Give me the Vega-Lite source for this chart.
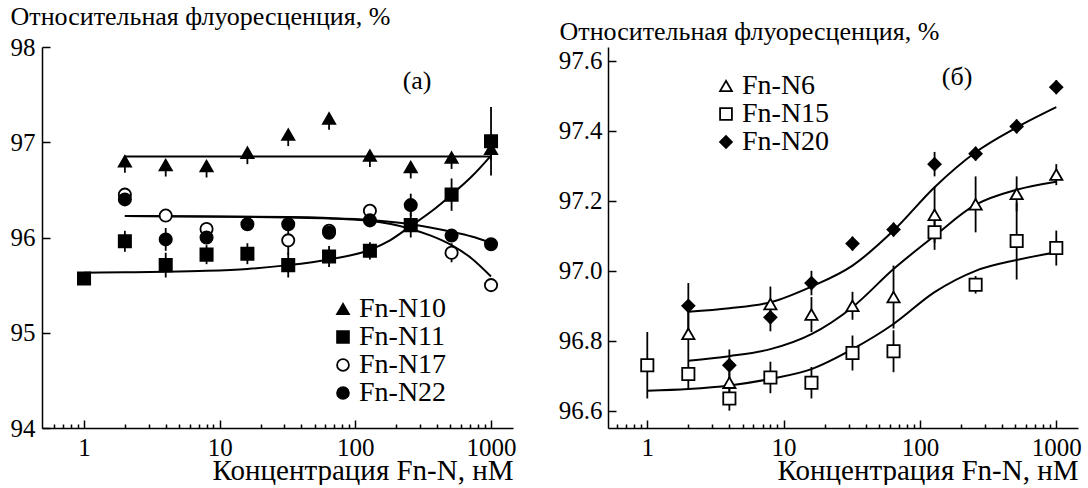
{
  "$schema": "https://vega.github.io/schema/vega-lite/v6.json",
  "autosize": {"type": "pad"},
  "padding": {"left": 10, "top": 3, "right": 0, "bottom": 0},
  "spacing": 95,
  "bounds": "flush",
  "config": {
    "view": {"stroke": null},
    "font": "Liberation Serif",
    "axis": {
      "labelFont": "Liberation Serif", "labelFontSize": 25, "labelColor": "black",
      "titleFont": "Liberation Serif", "titleFontSize": 29, "titleFontWeight": "normal", "titleColor": "black",
      "domainColor": "black", "domainWidth": 1.5, "tickColor": "black", "tickWidth": 1.5,
      "grid": false, "labelFlush": false, "labelOverlap": false
    },
    "legend": {
      "labelFont": "Liberation Serif", "labelFontSize": 28, "labelColor": "black"
    }
  },
  "datasets": {
    "left_pts": [
      {"series": "Fn-N10", "x": 2, "y": 96.80, "lo": 96.68, "hi": 96.80},
      {"series": "Fn-N10", "x": 4, "y": 96.76, "lo": 96.64, "hi": 96.76},
      {"series": "Fn-N10", "x": 8, "y": 96.75, "lo": 96.63, "hi": 96.75},
      {"series": "Fn-N10", "x": 16, "y": 96.89, "lo": 96.77, "hi": 96.89},
      {"series": "Fn-N10", "x": 32, "y": 97.08, "lo": 96.96, "hi": 97.08},
      {"series": "Fn-N10", "x": 64, "y": 97.25, "lo": 97.13, "hi": 97.25},
      {"series": "Fn-N10", "x": 128, "y": 96.86, "lo": 96.74, "hi": 96.86},
      {"series": "Fn-N10", "x": 256, "y": 96.74, "lo": 96.62, "hi": 96.74},
      {"series": "Fn-N10", "x": 512, "y": 96.84, "lo": 96.72, "hi": 96.84},
      {"series": "Fn-N10", "x": 1000, "y": 96.93, "lo": 96.81, "hi": 96.93},
      {"series": "Fn-N11", "x": 1, "y": 95.57, "lo": 95.55, "hi": 95.59},
      {"series": "Fn-N11", "x": 2, "y": 95.96, "lo": 95.85, "hi": 96.07},
      {"series": "Fn-N11", "x": 4, "y": 95.71, "lo": 95.58, "hi": 95.84},
      {"series": "Fn-N11", "x": 8, "y": 95.82, "lo": 95.72, "hi": 95.92},
      {"series": "Fn-N11", "x": 16, "y": 95.83, "lo": 95.72, "hi": 95.94},
      {"series": "Fn-N11", "x": 32, "y": 95.71, "lo": 95.58, "hi": 95.84},
      {"series": "Fn-N11", "x": 64, "y": 95.80, "lo": 95.69, "hi": 95.91},
      {"series": "Fn-N11", "x": 128, "y": 95.86, "lo": 95.77, "hi": 95.95},
      {"series": "Fn-N11", "x": 256, "y": 96.13, "lo": 96.00, "hi": 96.26},
      {"series": "Fn-N11", "x": 512, "y": 96.45, "lo": 96.28, "hi": 96.62},
      {"series": "Fn-N11", "x": 1000, "y": 97.01, "lo": 96.65, "hi": 97.37},
      {"series": "Fn-N17", "x": 2, "y": 96.45, "lo": 96.42, "hi": 96.48},
      {"series": "Fn-N17", "x": 4, "y": 96.23, "lo": 96.20, "hi": 96.26},
      {"series": "Fn-N17", "x": 8, "y": 96.09, "lo": 96.06, "hi": 96.12},
      {"series": "Fn-N17", "x": 32, "y": 95.97, "lo": 95.82, "hi": 96.12},
      {"series": "Fn-N17", "x": 64, "y": 96.07, "lo": 96.04, "hi": 96.10},
      {"series": "Fn-N17", "x": 128, "y": 96.28, "lo": 96.25, "hi": 96.31},
      {"series": "Fn-N17", "x": 512, "y": 95.84, "lo": 95.74, "hi": 95.94},
      {"series": "Fn-N17", "x": 1000, "y": 95.50, "lo": 95.44, "hi": 95.56},
      {"series": "Fn-N22", "x": 2, "y": 96.40, "lo": 96.36, "hi": 96.44},
      {"series": "Fn-N22", "x": 4, "y": 95.98, "lo": 95.86, "hi": 96.10},
      {"series": "Fn-N22", "x": 8, "y": 96.00, "lo": 95.93, "hi": 96.07},
      {"series": "Fn-N22", "x": 16, "y": 96.14, "lo": 96.08, "hi": 96.20},
      {"series": "Fn-N22", "x": 32, "y": 96.14, "lo": 96.09, "hi": 96.19},
      {"series": "Fn-N22", "x": 64, "y": 96.05, "lo": 96.00, "hi": 96.10},
      {"series": "Fn-N22", "x": 128, "y": 96.18, "lo": 96.12, "hi": 96.24},
      {"series": "Fn-N22", "x": 256, "y": 96.34, "lo": 96.22, "hi": 96.46},
      {"series": "Fn-N22", "x": 512, "y": 96.02, "lo": 95.96, "hi": 96.08},
      {"series": "Fn-N22", "x": 1000, "y": 95.93, "lo": 95.90, "hi": 95.96}
    ],
    "left_fit": [
      {"series": "Fn-N10", "x": 2, "y": 96.85},
      {"series": "Fn-N10", "x": 1000, "y": 96.85},
      {"series": "Fn-N11", "x": 1, "y": 95.63},
      {"series": "Fn-N11", "x": 2, "y": 95.635},
      {"series": "Fn-N11", "x": 4, "y": 95.64},
      {"series": "Fn-N11", "x": 8, "y": 95.65},
      {"series": "Fn-N11", "x": 16, "y": 95.67},
      {"series": "Fn-N11", "x": 32, "y": 95.71},
      {"series": "Fn-N11", "x": 64, "y": 95.77},
      {"series": "Fn-N11", "x": 128, "y": 95.87},
      {"series": "Fn-N11", "x": 180, "y": 95.97},
      {"series": "Fn-N11", "x": 256, "y": 96.12},
      {"series": "Fn-N11", "x": 360, "y": 96.27},
      {"series": "Fn-N11", "x": 512, "y": 96.45},
      {"series": "Fn-N11", "x": 720, "y": 96.64},
      {"series": "Fn-N11", "x": 1000, "y": 96.86},
      {"series": "Fn-N17", "x": 2, "y": 96.225},
      {"series": "Fn-N17", "x": 8, "y": 96.22},
      {"series": "Fn-N17", "x": 32, "y": 96.21},
      {"series": "Fn-N17", "x": 64, "y": 96.2},
      {"series": "Fn-N17", "x": 128, "y": 96.175},
      {"series": "Fn-N17", "x": 256, "y": 96.09},
      {"series": "Fn-N17", "x": 360, "y": 96.02},
      {"series": "Fn-N17", "x": 512, "y": 95.92},
      {"series": "Fn-N17", "x": 720, "y": 95.78},
      {"series": "Fn-N17", "x": 1000, "y": 95.59},
      {"series": "Fn-N22", "x": 2, "y": 96.225},
      {"series": "Fn-N22", "x": 8, "y": 96.22},
      {"series": "Fn-N22", "x": 32, "y": 96.215},
      {"series": "Fn-N22", "x": 64, "y": 96.205},
      {"series": "Fn-N22", "x": 128, "y": 96.185},
      {"series": "Fn-N22", "x": 256, "y": 96.14},
      {"series": "Fn-N22", "x": 512, "y": 96.06},
      {"series": "Fn-N22", "x": 720, "y": 96.01},
      {"series": "Fn-N22", "x": 1000, "y": 95.945}
    ],
    "right_pts": [
      {"series": "Fn-N6", "x": 2, "y": 96.82, "lo": 96.745, "hi": 96.895},
      {"series": "Fn-N6", "x": 4, "y": 96.68, "lo": 96.65, "hi": 96.71},
      {"series": "Fn-N6", "x": 8, "y": 96.905, "lo": 96.855, "hi": 96.955},
      {"series": "Fn-N6", "x": 16, "y": 96.875, "lo": 96.825, "hi": 96.925},
      {"series": "Fn-N6", "x": 32, "y": 96.9, "lo": 96.86, "hi": 96.94},
      {"series": "Fn-N6", "x": 64, "y": 96.925, "lo": 96.835, "hi": 97.015},
      {"series": "Fn-N6", "x": 128, "y": 97.16, "lo": 97.08, "hi": 97.24},
      {"series": "Fn-N6", "x": 256, "y": 97.19, "lo": 97.11, "hi": 97.27},
      {"series": "Fn-N6", "x": 512, "y": 97.22, "lo": 97.17, "hi": 97.27},
      {"series": "Fn-N6", "x": 1000, "y": 97.275, "lo": 97.245, "hi": 97.305},
      {"series": "Fn-N15", "x": 1, "y": 96.73, "lo": 96.635, "hi": 96.825},
      {"series": "Fn-N15", "x": 2, "y": 96.705, "lo": 96.665, "hi": 96.745},
      {"series": "Fn-N15", "x": 4, "y": 96.635, "lo": 96.6, "hi": 96.67},
      {"series": "Fn-N15", "x": 8, "y": 96.695, "lo": 96.65, "hi": 96.74},
      {"series": "Fn-N15", "x": 16, "y": 96.68, "lo": 96.635, "hi": 96.725},
      {"series": "Fn-N15", "x": 32, "y": 96.765, "lo": 96.715, "hi": 96.815},
      {"series": "Fn-N15", "x": 64, "y": 96.77, "lo": 96.71, "hi": 96.83},
      {"series": "Fn-N15", "x": 128, "y": 97.11, "lo": 97.06, "hi": 97.16},
      {"series": "Fn-N15", "x": 256, "y": 96.96, "lo": 96.935, "hi": 96.985},
      {"series": "Fn-N15", "x": 512, "y": 97.085, "lo": 96.975, "hi": 97.195},
      {"series": "Fn-N15", "x": 1000, "y": 97.065, "lo": 97.015, "hi": 97.115},
      {"series": "Fn-N20", "x": 2, "y": 96.9, "lo": 96.835, "hi": 96.965},
      {"series": "Fn-N20", "x": 4, "y": 96.73, "lo": 96.685, "hi": 96.775},
      {"series": "Fn-N20", "x": 8, "y": 96.867, "lo": 96.827, "hi": 96.907},
      {"series": "Fn-N20", "x": 16, "y": 96.965, "lo": 96.93, "hi": 97.0},
      {"series": "Fn-N20", "x": 32, "y": 97.078, "lo": 97.058, "hi": 97.098},
      {"series": "Fn-N20", "x": 64, "y": 97.118, "lo": 97.098, "hi": 97.138},
      {"series": "Fn-N20", "x": 128, "y": 97.305, "lo": 97.27, "hi": 97.34},
      {"series": "Fn-N20", "x": 256, "y": 97.335, "lo": 97.315, "hi": 97.355},
      {"series": "Fn-N20", "x": 512, "y": 97.413, "lo": 97.393, "hi": 97.433},
      {"series": "Fn-N20", "x": 1000, "y": 97.525, "lo": 97.505, "hi": 97.545}
    ],
    "right_fit": [
      {"series": "Fn-N20", "x": 2, "y": 96.883},
      {"series": "Fn-N20", "x": 4, "y": 96.893},
      {"series": "Fn-N20", "x": 8, "y": 96.91},
      {"series": "Fn-N20", "x": 16, "y": 96.955},
      {"series": "Fn-N20", "x": 32, "y": 97.015},
      {"series": "Fn-N20", "x": 64, "y": 97.115},
      {"series": "Fn-N20", "x": 128, "y": 97.239},
      {"series": "Fn-N20", "x": 256, "y": 97.339},
      {"series": "Fn-N20", "x": 512, "y": 97.41},
      {"series": "Fn-N20", "x": 1000, "y": 97.468},
      {"series": "Fn-N6", "x": 2, "y": 96.743},
      {"series": "Fn-N6", "x": 4, "y": 96.756},
      {"series": "Fn-N6", "x": 8, "y": 96.776},
      {"series": "Fn-N6", "x": 16, "y": 96.819},
      {"series": "Fn-N6", "x": 32, "y": 96.896},
      {"series": "Fn-N6", "x": 64, "y": 97.005},
      {"series": "Fn-N6", "x": 128, "y": 97.1},
      {"series": "Fn-N6", "x": 256, "y": 97.189},
      {"series": "Fn-N6", "x": 512, "y": 97.232},
      {"series": "Fn-N6", "x": 1000, "y": 97.255},
      {"series": "Fn-N15", "x": 1, "y": 96.657},
      {"series": "Fn-N15", "x": 2, "y": 96.662},
      {"series": "Fn-N15", "x": 4, "y": 96.672},
      {"series": "Fn-N15", "x": 8, "y": 96.691},
      {"series": "Fn-N15", "x": 16, "y": 96.719},
      {"series": "Fn-N15", "x": 32, "y": 96.776},
      {"series": "Fn-N15", "x": 64, "y": 96.848},
      {"series": "Fn-N15", "x": 128, "y": 96.939},
      {"series": "Fn-N15", "x": 256, "y": 97.0},
      {"series": "Fn-N15", "x": 512, "y": 97.031},
      {"series": "Fn-N15", "x": 1000, "y": 97.053}
    ]
  },
  "resolve": {
    "scale": {"x": "independent", "y": "independent", "shape": "independent", "fill": "independent", "stroke": "independent"},
    "axis": {"x": "independent", "y": "independent"},
    "legend": {"shape": "independent", "fill": "independent", "stroke": "independent"}
  },
  "hconcat": [
    {
      "width": 471,
      "height": 381,
      "resolve": {"axis": {"x": "independent"}},
      "layer": [
        {
          "data": {"name": "left_pts"},
          "mark": {"type": "rule", "color": "black", "strokeWidth": 1.8},
          "encoding": {
            "x": {"field": "x", "type": "quantitative", "axis": null,
                  "scale": {"type": "log", "domain": [0.49, 1452], "nice": false}},
            "y": {"field": "lo", "type": "quantitative",
                  "scale": {"domain": [94, 98], "nice": false, "zero": false},
                  "axis": {"values": [94, 95, 96, 97, 98], "format": "d", "tickSize": -8, "labelPadding": 15,
                           "title": "Относительная флуоресценция, %", "titleFontSize": 26, "titleAngle": 0,
                           "titleAlign": "left", "titleBaseline": "alphabetic",
                           "titleAnchor": "start", "titleX": -32, "titleY": -23}},
            "y2": {"field": "hi"}
          }
        },
        {
          "data": {"name": "left_fit"},
          "mark": {"type": "line", "color": "black", "strokeWidth": 2, "interpolate": "monotone"},
          "encoding": {
            "x": {"field": "x", "type": "quantitative",
                  "axis": {"orient": "bottom", "values": [1, 10, 100, 1000], "format": "d",
                           "tickSize": -8, "labelPadding": 15,
                           "title": "Концентрация Fn-N, нМ", "titleAnchor": "end", "titleAlign": "right",
                           "titleBaseline": "alphabetic", "titleX": 471, "titleY": 51}},
            "y": {"field": "y", "type": "quantitative"},
            "detail": {"field": "series"}
          }
        },
        {
          "data": {"name": "left_pts"},
          "mark": {"type": "point", "strokeWidth": 1.8, "opacity": 1, "filled": false},
          "encoding": {
            "x": {"field": "x", "type": "quantitative",
                  "axis": {"orient": "bottom", "values": [0.6, 0.7, 0.8, 0.9, 2, 3, 4, 5, 6, 7, 8, 9, 20, 30, 40, 50, 60, 70, 80, 90, 200, 300, 400, 500, 600, 700, 800, 900],
                           "tickSize": -4, "labels": false, "domain": false, "title": null}},
            "y": {"field": "y", "type": "quantitative"},
            "shape": {"field": "series", "type": "nominal",
                      "scale": {"domain": ["Fn-N10", "Fn-N11", "Fn-N17", "Fn-N22"],
                                "range": ["triangle-up", "square", "circle", "circle"]},
                      "legend": {"title": null, "orient": "none", "legendX": 287, "legendY": 248,
                                 "padding": 0, "rowPadding": 0, "labelOffset": 2, "symbolSize": 140, "symbolStrokeWidth": 1.8}},
            "fill": {"field": "series", "type": "nominal",
                     "scale": {"domain": ["Fn-N10", "Fn-N11", "Fn-N17", "Fn-N22"],
                               "range": ["black", "black", "white", "black"]},
                     "legend": {"title": null, "orient": "none", "legendX": 287, "legendY": 248,
                                "padding": 0, "rowPadding": 0, "labelOffset": 2, "symbolSize": 140, "symbolStrokeWidth": 1.8}},
            "stroke": {"field": "series", "type": "nominal",
                     "scale": {"domain": ["Fn-N10", "Fn-N11", "Fn-N17", "Fn-N22"],
                               "range": ["black", "black", "black", "black"]},
                     "legend": {"title": null, "orient": "none", "legendX": 287, "legendY": 248,
                                "padding": 0, "rowPadding": 0, "labelOffset": 2, "symbolSize": 140, "symbolStrokeWidth": 1.8}},
            "size": {"value": 150}
          }
        },
        {
          "data": {"values": [{"x": 285, "y": 97.648, "t": "(а)"}]},
          "mark": {"type": "text", "font": "Liberation Serif", "fontSize": 26, "color": "black"},
          "encoding": {
            "x": {"field": "x", "type": "quantitative", "axis": null},
            "y": {"field": "y", "type": "quantitative"},
            "text": {"field": "t"}
          }
        }
      ]
    },
    {
      "width": 470,
      "height": 381,
      "resolve": {"axis": {"x": "independent"}},
      "layer": [
        {
          "data": {"name": "right_pts"},
          "mark": {"type": "rule", "color": "black", "strokeWidth": 1.8},
          "encoding": {
            "x": {"field": "x", "type": "quantitative", "axis": null,
                  "scale": {"type": "log", "domain": [0.515, 1443], "nice": false}},
            "y": {"field": "lo", "type": "quantitative",
                  "scale": {"domain": [96.5505, 97.64], "nice": false, "zero": false},
                  "axis": {"values": [96.6, 96.8, 97.0, 97.2, 97.4, 97.6], "format": ".1f",
                           "tickSize": -8, "labelPadding": 14,
                           "title": "Относительная флуоресценция, %", "titleFontSize": 26, "titleAngle": 0,
                           "titleAlign": "left", "titleBaseline": "alphabetic",
                           "titleAnchor": "start", "titleX": -49, "titleY": -8}},
            "y2": {"field": "hi"}
          }
        },
        {
          "data": {"name": "right_fit"},
          "mark": {"type": "line", "color": "black", "strokeWidth": 2, "interpolate": "monotone"},
          "encoding": {
            "x": {"field": "x", "type": "quantitative",
                  "axis": {"orient": "bottom", "values": [1, 10, 100, 1000], "format": "d",
                           "tickSize": -8, "labelPadding": 15,
                           "title": "Концентрация Fn-N, нМ", "titleAnchor": "end", "titleAlign": "right",
                           "titleBaseline": "alphabetic", "titleX": 470, "titleY": 51}},
            "y": {"field": "y", "type": "quantitative"},
            "detail": {"field": "series"}
          }
        },
        {
          "data": {"name": "right_pts"},
          "mark": {"type": "point", "strokeWidth": 1.8, "opacity": 1, "filled": false},
          "encoding": {
            "x": {"field": "x", "type": "quantitative",
                  "axis": {"orient": "bottom", "values": [0.6, 0.7, 0.8, 0.9, 2, 3, 4, 5, 6, 7, 8, 9, 20, 30, 40, 50, 60, 70, 80, 90, 200, 300, 400, 500, 600, 700, 800, 900],
                           "tickSize": -4, "labels": false, "domain": false, "title": null}},
            "y": {"field": "y", "type": "quantitative"},
            "shape": {"field": "series", "type": "nominal",
                      "scale": {"domain": ["Fn-N6", "Fn-N15", "Fn-N20"],
                                "range": ["triangle-up", "square", "diamond"]},
                      "legend": {"title": null, "orient": "none", "legendX": 104, "legendY": 25,
                                 "padding": 0, "rowPadding": 0, "labelOffset": 2, "symbolSize": 140, "symbolStrokeWidth": 1.8}},
            "fill": {"field": "series", "type": "nominal",
                     "scale": {"domain": ["Fn-N6", "Fn-N15", "Fn-N20"],
                               "range": ["white", "white", "black"]},
                     "legend": {"title": null, "orient": "none", "legendX": 104, "legendY": 25,
                                "padding": 0, "rowPadding": 0, "labelOffset": 2, "symbolSize": 140, "symbolStrokeWidth": 1.8}},
            "stroke": {"field": "series", "type": "nominal",
                     "scale": {"domain": ["Fn-N6", "Fn-N15", "Fn-N20"],
                               "range": ["black", "black", "black"]},
                     "legend": {"title": null, "orient": "none", "legendX": 104, "legendY": 25,
                                "padding": 0, "rowPadding": 0, "labelOffset": 2, "symbolSize": 140, "symbolStrokeWidth": 1.8}},
            "size": {"value": 150}
          }
        },
        {
          "data": {"values": [{"x": 187, "y": 97.554, "t": "(б)"}]},
          "mark": {"type": "text", "font": "Liberation Serif", "fontSize": 26, "color": "black"},
          "encoding": {
            "x": {"field": "x", "type": "quantitative", "axis": null},
            "y": {"field": "y", "type": "quantitative"},
            "text": {"field": "t"}
          }
        }
      ]
    }
  ]
}
